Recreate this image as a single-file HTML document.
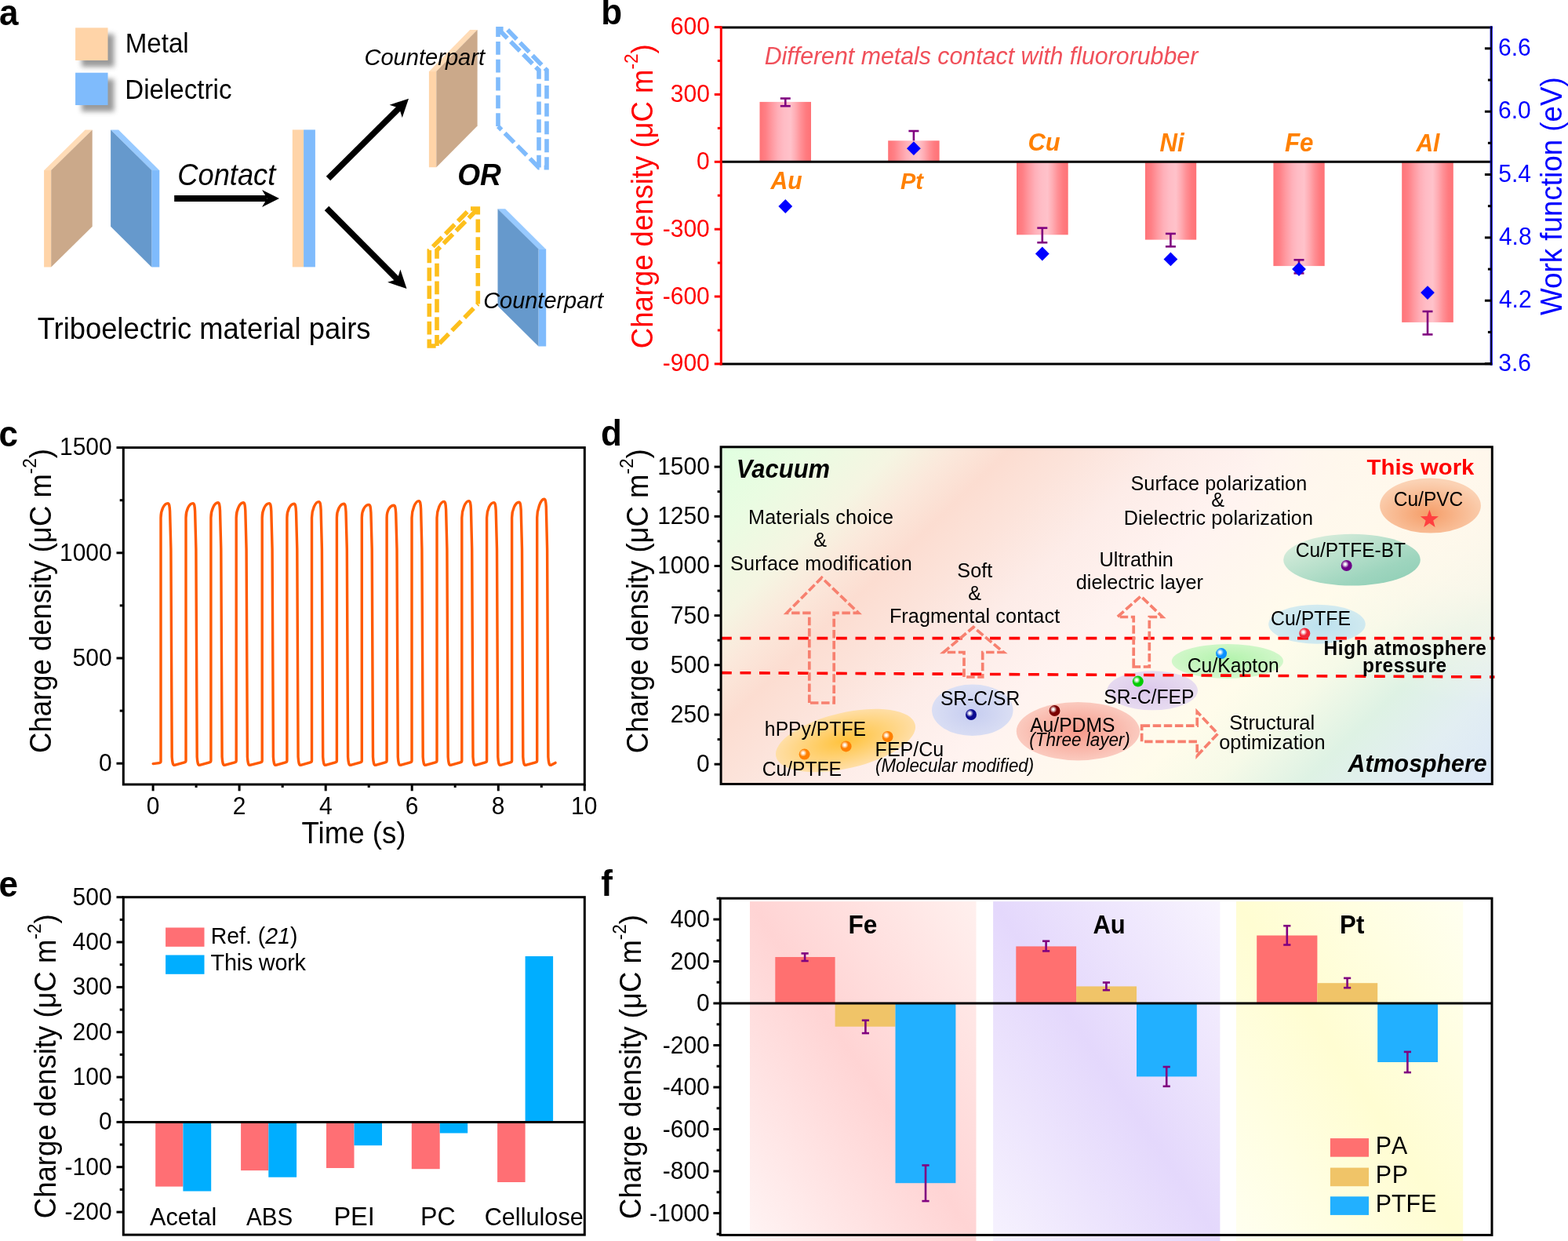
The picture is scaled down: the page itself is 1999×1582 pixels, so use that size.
<!DOCTYPE html><html><head><meta charset="utf-8"><title>Figure</title><style>html,body{margin:0;padding:0;background:#fff;overflow:hidden;}svg{display:block;}text{font-kerning:normal;}</style></head><body><svg width="1999" height="1582" viewBox="0 0 1999 1582" font-family='"Liberation Sans", Arial, Helvetica, sans-serif'><defs><filter id="shadow" x="-40%" y="-40%" width="180%" height="180%"><feGaussianBlur stdDeviation="3.2"/></filter><linearGradient id="barg" x1="0" x2="1" y1="0" y2="0"><stop offset="0" stop-color="#FF7377"/><stop offset="0.12" stop-color="#FF8086"/><stop offset="0.24" stop-color="#FF9AA1"/><stop offset="0.36" stop-color="#FFB0B9"/><stop offset="0.47" stop-color="#FFBCC5"/><stop offset="0.6" stop-color="#FFC2CA"/><stop offset="0.7" stop-color="#FFACB3"/><stop offset="0.8" stop-color="#FF9096"/><stop offset="0.9" stop-color="#FF7B80"/><stop offset="1" stop-color="#FF7276"/></linearGradient><clipPath id="dclip"><rect x="919.1" y="569.8" width="983.2" height="429.7"/></clipPath><linearGradient id="dbg" gradientUnits="userSpaceOnUse" x1="919" y1="570" x2="1604.4" y2="1285.2"><stop offset="0" stop-color="#E0FFE0"/><stop offset="0.08" stop-color="#EAFCE2"/><stop offset="0.16" stop-color="#F5F5E2"/><stop offset="0.21" stop-color="#FBE8DB"/><stop offset="0.26" stop-color="#FCDDD1"/><stop offset="0.32" stop-color="#FCE3DA"/><stop offset="0.40" stop-color="#FDECE8"/><stop offset="0.50" stop-color="#FFF3F0"/><stop offset="0.60" stop-color="#FFF8EE"/><stop offset="0.68" stop-color="#FFFCEB"/><stop offset="0.75" stop-color="#F6FAE8"/><stop offset="0.83" stop-color="#DEF2E4"/><stop offset="0.91" stop-color="#E2EEF2"/><stop offset="1" stop-color="#DCE8F8"/></linearGradient><radialGradient id="dtr" gradientUnits="userSpaceOnUse" cx="1905" cy="570" r="330"><stop offset="0" stop-color="#FFF7EC" stop-opacity="1"/><stop offset="0.55" stop-color="#FFF8EC" stop-opacity="0.75"/><stop offset="1" stop-color="#FFF8EC" stop-opacity="0"/></radialGradient><radialGradient id="eg_or" cx="0.5" cy="0.5" r="0.6"><stop offset="0" stop-color="#FFC23A"/><stop offset="1" stop-color="#FFE4BC"/></radialGradient><radialGradient id="eg_bl" cx="0.5" cy="0.55" r="0.55"><stop offset="0" stop-color="#C6CDF0"/><stop offset="1" stop-color="#DCE0F4"/></radialGradient><radialGradient id="eg_pd" cx="0.5" cy="0.5" r="0.55"><stop offset="0" stop-color="#F7998A"/><stop offset="1" stop-color="#FBCFC4"/></radialGradient><radialGradient id="eg_fep" cx="0.45" cy="0.5" r="0.55"><stop offset="0" stop-color="#DCC8EC"/><stop offset="1" stop-color="#E8DDF0"/></radialGradient><radialGradient id="eg_kap" cx="0.5" cy="0.45" r="0.6"><stop offset="0" stop-color="#B2F3AC"/><stop offset="1" stop-color="#D8F8D0"/></radialGradient><radialGradient id="eg_ptfe" cx="0.55" cy="0.55" r="0.6"><stop offset="0" stop-color="#BCE1EE"/><stop offset="1" stop-color="#D6ECF0"/></radialGradient><radialGradient id="eg_pvc" cx="0.48" cy="0.65" r="0.6"><stop offset="0" stop-color="#F59D68"/><stop offset="1" stop-color="#FBD2B4"/></radialGradient><linearGradient id="eg_bt" x1="0" y1="0" x2="1" y2="1"><stop offset="0" stop-color="#E4F2E2"/><stop offset="0.7" stop-color="#9ED5BE"/><stop offset="1" stop-color="#8CCDB4"/></linearGradient><radialGradient id="sp1" cx="0.38" cy="0.38" r="0.75"><stop offset="0" stop-color="#FFFFFF"/><stop offset="0.1" stop-color="#FFFFFF" stop-opacity="0.92"/><stop offset="0.44" stop-color="#FF8000"/><stop offset="0.85" stop-color="#FF8000"/><stop offset="1" stop-color="#F07800"/></radialGradient><radialGradient id="sp2" cx="0.38" cy="0.38" r="0.75"><stop offset="0" stop-color="#FFFFFF"/><stop offset="0.1" stop-color="#FFFFFF" stop-opacity="0.92"/><stop offset="0.44" stop-color="#FF8000"/><stop offset="0.85" stop-color="#FF8000"/><stop offset="1" stop-color="#F07800"/></radialGradient><radialGradient id="sp3" cx="0.38" cy="0.38" r="0.75"><stop offset="0" stop-color="#FFFFFF"/><stop offset="0.1" stop-color="#FFFFFF" stop-opacity="0.92"/><stop offset="0.44" stop-color="#FF8000"/><stop offset="0.85" stop-color="#FF8000"/><stop offset="1" stop-color="#F07800"/></radialGradient><radialGradient id="sp4" cx="0.38" cy="0.38" r="0.75"><stop offset="0" stop-color="#FFFFFF"/><stop offset="0.1" stop-color="#FFFFFF" stop-opacity="0.92"/><stop offset="0.44" stop-color="#0A0A90"/><stop offset="0.85" stop-color="#0A0A90"/><stop offset="1" stop-color="#000078"/></radialGradient><radialGradient id="sp5" cx="0.38" cy="0.38" r="0.75"><stop offset="0" stop-color="#FFFFFF"/><stop offset="0.1" stop-color="#FFFFFF" stop-opacity="0.92"/><stop offset="0.44" stop-color="#7A0000"/><stop offset="0.85" stop-color="#7A0000"/><stop offset="1" stop-color="#680000"/></radialGradient><radialGradient id="sp6" cx="0.38" cy="0.38" r="0.75"><stop offset="0" stop-color="#FFFFFF"/><stop offset="0.1" stop-color="#FFFFFF" stop-opacity="0.92"/><stop offset="0.44" stop-color="#00CC00"/><stop offset="0.85" stop-color="#00CC00"/><stop offset="1" stop-color="#00B800"/></radialGradient><radialGradient id="sp7" cx="0.38" cy="0.38" r="0.75"><stop offset="0" stop-color="#FFFFFF"/><stop offset="0.1" stop-color="#FFFFFF" stop-opacity="0.92"/><stop offset="0.44" stop-color="#0A90FF"/><stop offset="0.85" stop-color="#0A90FF"/><stop offset="1" stop-color="#0080F0"/></radialGradient><radialGradient id="sp8" cx="0.38" cy="0.38" r="0.75"><stop offset="0" stop-color="#FFFFFF"/><stop offset="0.1" stop-color="#FFFFFF" stop-opacity="0.92"/><stop offset="0.44" stop-color="#F02838"/><stop offset="0.85" stop-color="#F02838"/><stop offset="1" stop-color="#E02030"/></radialGradient><radialGradient id="sp9" cx="0.38" cy="0.38" r="0.75"><stop offset="0" stop-color="#FFFFFF"/><stop offset="0.1" stop-color="#FFFFFF" stop-opacity="0.92"/><stop offset="0.44" stop-color="#6C0088"/><stop offset="0.85" stop-color="#6C0088"/><stop offset="1" stop-color="#600078"/></radialGradient><linearGradient id="fbg_fe" x1="0" y1="1" x2="1" y2="0"><stop offset="0" stop-color="#FFF4F4"/><stop offset="0.5" stop-color="#FFD4D4"/><stop offset="1" stop-color="#FFF0EE"/></linearGradient><linearGradient id="fbg_au" x1="0" y1="1" x2="1" y2="0"><stop offset="0" stop-color="#F6F2FE"/><stop offset="0.5" stop-color="#E4D8FC"/><stop offset="1" stop-color="#F8F4FE"/></linearGradient><linearGradient id="fbg_pt" x1="0" y1="1" x2="1" y2="0"><stop offset="0" stop-color="#FFFFF0"/><stop offset="0.5" stop-color="#FFFDD2"/><stop offset="1" stop-color="#FFFFF0"/></linearGradient></defs><rect width="1999" height="1582" fill="#FFFFFF"/><text transform="matrix(1 0 0 1.045 -1.12 31.70)" font-size="44.00" fill="#000" font-weight="bold" >a</text>
<text transform="matrix(1 0 0 1.045 766.34 31.30)" font-size="44.00" fill="#000" font-weight="bold" >b</text>
<text transform="matrix(1 0 0 1.045 -1.56 568.80)" font-size="44.00" fill="#000" font-weight="bold" >c</text>
<text transform="matrix(1 0 0 1.045 766.04 568.00)" font-size="44.00" fill="#000" font-weight="bold" >d</text>
<text transform="matrix(1 0 0 1.045 -1.56 1142.60)" font-size="44.00" fill="#000" font-weight="bold" >e</text>
<text transform="matrix(1 0 0 1.045 766.34 1141.60)" font-size="44.00" fill="#000" font-weight="bold" >f</text>
<rect x="104.0" y="43.5" width="41.4" height="41.6" fill="#808080" filter="url(#shadow)" opacity="0.8"/>
<rect x="96.1" y="35.4" width="41.4" height="41.6" fill="#FFD4A8" />
<rect x="104.0" y="100.8" width="41.4" height="41.3" fill="#808080" filter="url(#shadow)" opacity="0.8"/>
<rect x="96.1" y="92.7" width="41.4" height="41.3" fill="#7FBBFC" />
<text transform="matrix(1 0 0 1.045 159.65 67.30)" font-size="33.17" fill="#000" >Metal</text>
<text transform="matrix(1 0 0 1.045 159.25 126.30)" font-size="33.13" fill="#000" >Dielectric</text>
<polygon points="56.1,217.0 65.2,217.0 65.2,340.4 56.1,340.4" fill="#FFD4A8" />
<polygon points="56.1,217.3 108.6,165.4 117.7,165.4 65.2,217.3" fill="#FFDCB7" />
<polygon points="65.2,217.0 117.7,165.4 117.7,288.8 65.2,340.4" fill="#CBA98A" />
<polygon points="203.3,217.0 193.3,217.0 193.3,340.4 203.3,340.4" fill="#7FBBFC" />
<polygon points="203.3,217.3 151.1,165.4 141.1,165.4 193.3,217.3" fill="#98CAFF" />
<polygon points="193.3,217.0 141.1,165.4 141.1,288.8 193.3,340.4" fill="#6699CC" />
<rect x="222.2" y="249.0" width="118.0" height="8.0" fill="#000" />
<polygon points="356.0,253.0 334.0,242.0 340.5,253.0 334.0,264.0" fill="#000" />
<text transform="matrix(1 0 0 1.045 226.31 236.00)" font-size="36.26" fill="#000" font-style="italic" >Contact</text>
<rect x="372.8" y="165.4" width="14.3" height="175.0" fill="#FFD4A8" />
<rect x="387.1" y="165.4" width="14.8" height="175.0" fill="#7FBBFC" />
<line x1="418.5" y1="227.5" x2="509.6" y2="137.0" stroke="#000" stroke-width="7.7" />
<polygon points="521.0,125.7 512.8,150.1 508.9,137.7 496.6,133.7" fill="#000" />
<line x1="416.5" y1="265.5" x2="507.2" y2="356.7" stroke="#000" stroke-width="7.7" />
<polygon points="518.5,368.0 494.1,359.8 506.5,355.9 510.4,343.6" fill="#000" />
<polygon points="546.9,90.9 556.3,90.9 556.3,213.3 546.9,213.3" fill="#FFD4A8" />
<polygon points="546.9,91.2 599.2,38.1 608.6,38.1 556.3,91.2" fill="#FFDCB7" />
<polygon points="556.3,90.9 608.6,38.1 608.6,160.5 556.3,213.3" fill="#CBA98A" />
<path d="M 635 161 L 635 36.8 L 646 36.8 L 697 89.5 L 697 213.6 L 687 213.6 L 635 161 M 635 36.8 L 687 89.5 L 687 213.6" fill="none" stroke="#7FBBFC" stroke-width="5.6" stroke-dasharray="16.8,6" stroke-linejoin="miter" stroke-miterlimit="10"/>
<path d="M 609.3 387.5 L 609.3 266 L 599.6 266 L 547.3 319 L 547.3 441 L 557 441 L 609.3 387.5 M 609.3 266 L 557 319 L 557 441" fill="none" stroke="#FDBF1C" stroke-width="5.6" stroke-dasharray="16.8,6" stroke-linejoin="miter" stroke-miterlimit="10"/>
<polygon points="696.2,317.6 686.5,317.6 686.5,441.4 696.2,441.4" fill="#7FBBFC" />
<polygon points="696.2,317.9 644.2,266.2 634.5,266.2 686.5,317.9" fill="#98CAFF" />
<polygon points="686.5,317.6 634.5,266.2 634.5,390.0 686.5,441.4" fill="#6699CC" />
<text transform="matrix(1 0 0 1.045 464.40 82.60)" font-size="29.09" fill="#000" font-style="italic" >Counterpart</text>
<text transform="matrix(1 0 0 1.045 616.21 392.80)" font-size="28.94" fill="#000" font-style="italic" >Counterpart</text>
<text transform="matrix(1 0 0 1.045 583.14 235.60)" font-size="37.16" fill="#000" font-weight="bold" font-style="italic" >OR</text>
<text transform="matrix(1 0 0 1.045 47.67 431.80)" font-size="36.36" fill="#000" >Triboelectric material pairs</text>
<rect x="968.5" y="129.9" width="65.5" height="76.4" fill="url(#barg)" />
<rect x="1132.2" y="179.3" width="65.4" height="27.0" fill="url(#barg)" />
<rect x="1296.0" y="206.3" width="65.7" height="93.0" fill="url(#barg)" />
<rect x="1459.9" y="206.3" width="65.3" height="99.3" fill="url(#barg)" />
<rect x="1623.4" y="206.3" width="65.3" height="132.8" fill="url(#barg)" />
<rect x="1787.2" y="206.3" width="65.6" height="204.6" fill="url(#barg)" />
<line x1="919.3" y1="206.3" x2="1901.2" y2="206.3" stroke="#000" stroke-width="3" />
<line x1="917.8" y1="35.0" x2="1902.7" y2="35.0" stroke="#000" stroke-width="3" />
<line x1="917.8" y1="464.0" x2="1902.7" y2="464.0" stroke="#000" stroke-width="3" />
<line x1="1001.3" y1="125.5" x2="1001.3" y2="135.2" stroke="#800080" stroke-width="2.6" />
<line x1="994.8" y1="125.5" x2="1007.8" y2="125.5" stroke="#800080" stroke-width="2.6" />
<line x1="994.8" y1="135.2" x2="1007.8" y2="135.2" stroke="#800080" stroke-width="2.6" />
<line x1="1164.9" y1="167.0" x2="1164.9" y2="179.3" stroke="#800080" stroke-width="2.6" />
<line x1="1158.4" y1="167.0" x2="1171.4" y2="167.0" stroke="#800080" stroke-width="2.6" />
<line x1="1328.8" y1="290.6" x2="1328.8" y2="309.2" stroke="#800080" stroke-width="2.6" />
<line x1="1322.3" y1="290.6" x2="1335.3" y2="290.6" stroke="#800080" stroke-width="2.6" />
<line x1="1322.3" y1="309.2" x2="1335.3" y2="309.2" stroke="#800080" stroke-width="2.6" />
<line x1="1492.4" y1="297.9" x2="1492.4" y2="314.3" stroke="#800080" stroke-width="2.6" />
<line x1="1485.9" y1="297.9" x2="1498.9" y2="297.9" stroke="#800080" stroke-width="2.6" />
<line x1="1485.9" y1="314.3" x2="1498.9" y2="314.3" stroke="#800080" stroke-width="2.6" />
<line x1="1656.0" y1="331.3" x2="1656.0" y2="348.4" stroke="#800080" stroke-width="2.6" />
<line x1="1649.5" y1="331.3" x2="1662.5" y2="331.3" stroke="#800080" stroke-width="2.6" />
<line x1="1649.5" y1="348.4" x2="1662.5" y2="348.4" stroke="#800080" stroke-width="2.6" />
<line x1="1820.0" y1="397.0" x2="1820.0" y2="426.4" stroke="#800080" stroke-width="2.6" />
<line x1="1813.5" y1="397.0" x2="1826.5" y2="397.0" stroke="#800080" stroke-width="2.6" />
<line x1="1813.5" y1="426.4" x2="1826.5" y2="426.4" stroke="#800080" stroke-width="2.6" />
<polygon points="1001.3,254.1 1010.2,263.0 1001.3,271.9 992.4,263.0" fill="#0000FF" />
<polygon points="1164.9,180.3 1173.8,189.2 1164.9,198.1 1156.0,189.2" fill="#0000FF" />
<polygon points="1328.8,314.6 1337.7,323.5 1328.8,332.4 1319.9,323.5" fill="#0000FF" />
<polygon points="1492.4,321.5 1501.3,330.4 1492.4,339.3 1483.5,330.4" fill="#0000FF" />
<polygon points="1656.0,334.2 1664.9,343.1 1656.0,352.0 1647.1,343.1" fill="#0000FF" />
<polygon points="1820.0,364.2 1828.9,373.1 1820.0,382.0 1811.1,373.1" fill="#0000FF" />
<line x1="919.3" y1="33.5" x2="919.3" y2="465.5" stroke="#FF0000" stroke-width="3" />
<line x1="910.8" y1="463.9" x2="919.3" y2="463.9" stroke="#FF0000" stroke-width="3" />
<text transform="matrix(1 0 0 1.045 844.75 473.38)" font-size="30.00" fill="#FF0000" >-900</text>
<line x1="914.8" y1="421.0" x2="919.3" y2="421.0" stroke="#FF0000" stroke-width="3" />
<line x1="910.8" y1="378.0" x2="919.3" y2="378.0" stroke="#FF0000" stroke-width="3" />
<text transform="matrix(1 0 0 1.045 844.75 387.52)" font-size="30.00" fill="#FF0000" >-600</text>
<line x1="914.8" y1="335.1" x2="919.3" y2="335.1" stroke="#FF0000" stroke-width="3" />
<line x1="910.8" y1="292.2" x2="919.3" y2="292.2" stroke="#FF0000" stroke-width="3" />
<text transform="matrix(1 0 0 1.045 844.75 301.66)" font-size="30.00" fill="#FF0000" >-300</text>
<line x1="914.8" y1="249.2" x2="919.3" y2="249.2" stroke="#FF0000" stroke-width="3" />
<line x1="910.8" y1="206.3" x2="919.3" y2="206.3" stroke="#FF0000" stroke-width="3" />
<text transform="matrix(1 0 0 1.045 888.10 215.80)" font-size="30.00" fill="#FF0000" >0</text>
<line x1="914.8" y1="163.4" x2="919.3" y2="163.4" stroke="#FF0000" stroke-width="3" />
<line x1="910.8" y1="120.4" x2="919.3" y2="120.4" stroke="#FF0000" stroke-width="3" />
<text transform="matrix(1 0 0 1.045 854.80 129.94)" font-size="30.00" fill="#FF0000" >300</text>
<line x1="914.8" y1="77.5" x2="919.3" y2="77.5" stroke="#FF0000" stroke-width="3" />
<line x1="910.8" y1="34.6" x2="919.3" y2="34.6" stroke="#FF0000" stroke-width="3" />
<text transform="matrix(1 0 0 1.045 854.80 44.08)" font-size="30.00" fill="#FF0000" >600</text>
<line x1="1901.2" y1="33.5" x2="1901.2" y2="465.5" stroke="#0000FF" stroke-width="3.2" />
<line x1="1901.2" y1="33.5" x2="1901.2" y2="465.5" stroke="#000" stroke-width="1.6" />
<line x1="1892.9" y1="463.6" x2="1901.2" y2="463.6" stroke="#000" stroke-width="3" />
<text transform="matrix(1 0 0 1.045 1910.30 472.80)" font-size="30.00" fill="#0000FF" >3.6</text>
<line x1="1896.9" y1="423.4" x2="1901.2" y2="423.4" stroke="#000" stroke-width="3" />
<line x1="1892.9" y1="383.2" x2="1901.2" y2="383.2" stroke="#000" stroke-width="3" />
<text transform="matrix(1 0 0 1.045 1910.90 392.44)" font-size="30.00" fill="#0000FF" >4.2</text>
<line x1="1896.9" y1="343.1" x2="1901.2" y2="343.1" stroke="#000" stroke-width="3" />
<line x1="1892.9" y1="302.9" x2="1901.2" y2="302.9" stroke="#000" stroke-width="3" />
<text transform="matrix(1 0 0 1.045 1910.90 312.08)" font-size="30.00" fill="#0000FF" >4.8</text>
<line x1="1896.9" y1="262.7" x2="1901.2" y2="262.7" stroke="#000" stroke-width="3" />
<line x1="1892.9" y1="222.5" x2="1901.2" y2="222.5" stroke="#000" stroke-width="3" />
<text transform="matrix(1 0 0 1.045 1910.30 231.71)" font-size="30.00" fill="#0000FF" >5.4</text>
<line x1="1896.9" y1="182.3" x2="1901.2" y2="182.3" stroke="#000" stroke-width="3" />
<line x1="1892.9" y1="142.2" x2="1901.2" y2="142.2" stroke="#000" stroke-width="3" />
<text transform="matrix(1 0 0 1.045 1910.00 151.35)" font-size="30.00" fill="#0000FF" >6.0</text>
<line x1="1896.9" y1="102.0" x2="1901.2" y2="102.0" stroke="#000" stroke-width="3" />
<line x1="1892.9" y1="61.8" x2="1901.2" y2="61.8" stroke="#000" stroke-width="3" />
<text transform="matrix(1 0 0 1.045 1910.00 70.99)" font-size="30.00" fill="#0000FF" >6.6</text>
<text transform="translate(831.5,250.3) rotate(-90) scale(1,1.045)" font-size="36.5" fill="#FF0000" text-anchor="middle">Charge density (μC m<tspan font-size="22.5" dy="-18">-2</tspan><tspan dy="18">)</tspan></text>
<text transform="translate(1991.2,250.1) rotate(-90) scale(1,1.045)" font-size="36.8" fill="#0000FF" text-anchor="middle">Work function (eV)</text>
<text transform="matrix(1 0 0 1.045 974.69 82.20)" font-size="30.33" fill="#F0505A" font-style="italic" >Different metals contact with fluororubber</text>
<text transform="matrix(1 0 0 1.045 982.40 241.30)" font-size="30.11" fill="#FF8000" font-weight="bold" font-style="italic" >Au</text>
<text transform="matrix(1 0 0 1.045 1148.02 241.30)" font-size="28.97" fill="#FF8000" font-weight="bold" font-style="italic" >Pt</text>
<text transform="matrix(1 0 0 1.045 1310.46 192.30)" font-size="30.83" fill="#FF8000" font-weight="bold" font-style="italic" >Cu</text>
<text transform="matrix(1 0 0 1.045 1478.38 192.60)" font-size="31.16" fill="#FF8000" font-weight="bold" font-style="italic" >Ni</text>
<text transform="matrix(1 0 0 1.045 1637.97 192.60)" font-size="31.25" fill="#FF8000" font-weight="bold" font-style="italic" >Fe</text>
<text transform="matrix(1 0 0 1.045 1805.40 192.60)" font-size="30.00" fill="#FF8000" font-weight="bold" font-style="italic" >Al</text>
<path d="M 195.2 973.6 L 203.0 972.6 C 204.4 972.4 205.0 971.8 205.0 970.5 L 205.0 660 C 205.0 650 209.5 641.6 214.0 641.6 C 215.6 641.6 216.2 644.6 216.6 651.6 L 217.9 700 L 219.2 965 C 219.6 972 220.5 975.6 222.5 975.4 L 235.2 971.8 C 236.5 971.6 237.0 971.0 237.0 969.5 L 237.0 660 C 237.0 650 241.5 641.6 246.0 641.6 C 247.6 641.6 248.2 644.6 248.6 651.6 L 249.9 700 L 251.2 965 C 251.6 972 252.5 975.6 254.5 975.4 L 267.1 971.8 C 268.4 971.6 268.9 971.0 268.9 969.5 L 268.9 660 C 268.9 650 273.4 640.8 277.9 640.8 C 279.5 640.8 280.1 643.8 280.5 650.8 L 281.8 700 L 283.1 965 C 283.5 972 284.4 975.6 286.4 975.4 L 299.4 971.8 C 300.7 971.6 301.2 971.0 301.2 969.5 L 301.2 660 C 301.2 650 305.7 640.8 310.2 640.8 C 311.8 640.8 312.4 643.8 312.8 650.8 L 314.1 700 L 315.4 965 C 315.8 972 316.7 975.6 318.7 975.4 L 332.4 971.8 C 333.7 971.6 334.2 971.0 334.2 969.5 L 334.2 660 C 334.2 650 338.7 641.6 343.2 641.6 C 344.8 641.6 345.4 644.6 345.8 651.6 L 347.1 700 L 348.4 965 C 348.8 972 349.7 975.6 351.7 975.4 L 364.1 971.8 C 365.4 971.6 365.9 971.0 365.9 969.5 L 365.9 660 C 365.9 650 370.4 642.3 374.9 642.3 C 376.5 642.3 377.1 645.3 377.5 652.3 L 378.8 700 L 380.1 965 C 380.5 972 381.4 975.6 383.4 975.4 L 395.7 971.8 C 397.0 971.6 397.5 971.0 397.5 969.5 L 397.5 660 C 397.5 650 402.0 639.6 406.5 639.6 C 408.1 639.6 408.7 642.6 409.1 649.6 L 410.4 700 L 411.7 965 C 412.1 972 413.0 975.6 415.0 975.4 L 427.6 971.8 C 428.9 971.6 429.4 971.0 429.4 969.5 L 429.4 660 C 429.4 650 433.9 642.3 438.4 642.3 C 440.0 642.3 440.6 645.3 441.0 652.3 L 442.3 700 L 443.6 965 C 444.0 972 444.9 975.6 446.9 975.4 L 459.5 971.8 C 460.8 971.6 461.3 971.0 461.3 969.5 L 461.3 660 C 461.3 650 465.8 643.4 470.3 643.4 C 471.9 643.4 472.5 646.4 472.9 653.4 L 474.2 700 L 475.5 965 C 475.9 972 476.8 975.6 478.8 975.4 L 491.3 971.8 C 492.6 971.6 493.1 971.0 493.1 969.5 L 493.1 660 C 493.1 650 497.6 644.2 502.1 644.2 C 503.7 644.2 504.3 647.2 504.7 654.2 L 506.0 700 L 507.3 965 C 507.7 972 508.6 975.6 510.6 975.4 L 523.2 971.8 C 524.5 971.6 525.0 971.0 525.0 969.5 L 525.0 660 C 525.0 650 529.5 638.6 534.0 638.6 C 535.6 638.6 536.2 641.6 536.6 648.6 L 537.9 700 L 539.2 965 C 539.6 972 540.5 975.6 542.5 975.4 L 555.2 971.8 C 556.5 971.6 557.0 971.0 557.0 969.5 L 557.0 660 C 557.0 650 561.5 639.4 566.0 639.4 C 567.6 639.4 568.2 642.4 568.6 649.4 L 569.9 700 L 571.2 965 C 571.6 972 572.5 975.6 574.5 975.4 L 587.0 971.8 C 588.3 971.6 588.8 971.0 588.8 969.5 L 588.8 660 C 588.8 650 593.3 638.6 597.8 638.6 C 599.4 638.6 600.0 641.6 600.4 648.6 L 601.7 700 L 603.0 965 C 603.4 972 604.3 975.6 606.3 975.4 L 618.8 971.8 C 620.1 971.6 620.6 971.0 620.6 969.5 L 620.6 660 C 620.6 650 625.1 640.6 629.6 640.6 C 631.2 640.6 631.8 643.6 632.2 650.6 L 633.5 700 L 634.8 965 C 635.2 972 636.1 975.6 638.1 975.4 L 650.8 971.8 C 652.1 971.6 652.6 971.0 652.6 969.5 L 652.6 660 C 652.6 650 657.1 640.2 661.6 640.2 C 663.2 640.2 663.8 643.2 664.2 650.2 L 665.5 700 L 666.8 965 C 667.2 972 668.1 975.6 670.1 975.4 L 682.9 971.8 C 684.2 971.6 684.7 971.0 684.7 969.5 L 684.7 660 C 684.7 650 689.2 636.2 693.7 636.2 C 695.3 636.2 695.9 639.2 696.3 646.2 L 697.6 700 L 698.9 965 C 699.3 972 700.2 975.6 702.2 975.4 L 708.0 972.4" fill="none" stroke="#FF5A00" stroke-width="3.4" stroke-linejoin="round" stroke-linecap="round"/>
<rect x="157.3" y="570.6" width="588.0" height="429.4" fill="none" stroke="#000" stroke-width="3"/>
<line x1="148.5" y1="973.2" x2="157.3" y2="973.2" stroke="#000" stroke-width="3" />
<text transform="matrix(1 0 0 1.045 125.90 983.00)" font-size="30.00" fill="#000" >0</text>
<line x1="152.7" y1="906.1" x2="157.3" y2="906.1" stroke="#000" stroke-width="3" />
<line x1="148.5" y1="839.0" x2="157.3" y2="839.0" stroke="#000" stroke-width="3" />
<text transform="matrix(1 0 0 1.045 92.60 848.80)" font-size="30.00" fill="#000" >500</text>
<line x1="152.7" y1="771.9" x2="157.3" y2="771.9" stroke="#000" stroke-width="3" />
<line x1="148.5" y1="704.8" x2="157.3" y2="704.8" stroke="#000" stroke-width="3" />
<text transform="matrix(1 0 0 1.045 75.95 714.60)" font-size="30.00" fill="#000" >1000</text>
<line x1="152.7" y1="637.7" x2="157.3" y2="637.7" stroke="#000" stroke-width="3" />
<line x1="148.5" y1="570.6" x2="157.3" y2="570.6" stroke="#000" stroke-width="3" />
<text transform="matrix(1 0 0 1.045 75.95 580.40)" font-size="30.00" fill="#000" >1500</text>
<line x1="195.1" y1="1000.0" x2="195.1" y2="1008.3" stroke="#000" stroke-width="3" />
<text transform="matrix(1 0 0 1.045 186.70 1037.60)" font-size="30.00" fill="#000" >0</text>
<line x1="250.1" y1="1000.0" x2="250.1" y2="1004.0" stroke="#000" stroke-width="3" />
<line x1="305.1" y1="1000.0" x2="305.1" y2="1008.3" stroke="#000" stroke-width="3" />
<text transform="matrix(1 0 0 1.045 296.81 1037.60)" font-size="30.00" fill="#000" >2</text>
<line x1="360.2" y1="1000.0" x2="360.2" y2="1004.0" stroke="#000" stroke-width="3" />
<line x1="415.2" y1="1000.0" x2="415.2" y2="1008.3" stroke="#000" stroke-width="3" />
<text transform="matrix(1 0 0 1.045 407.00 1037.60)" font-size="30.00" fill="#000" >4</text>
<line x1="470.2" y1="1000.0" x2="470.2" y2="1004.0" stroke="#000" stroke-width="3" />
<line x1="525.2" y1="1000.0" x2="525.2" y2="1008.3" stroke="#000" stroke-width="3" />
<text transform="matrix(1 0 0 1.045 516.75 1037.60)" font-size="30.00" fill="#000" >6</text>
<line x1="580.2" y1="1000.0" x2="580.2" y2="1004.0" stroke="#000" stroke-width="3" />
<line x1="635.3" y1="1000.0" x2="635.3" y2="1008.3" stroke="#000" stroke-width="3" />
<text transform="matrix(1 0 0 1.045 626.86 1037.60)" font-size="30.00" fill="#000" >8</text>
<line x1="690.3" y1="1000.0" x2="690.3" y2="1004.0" stroke="#000" stroke-width="3" />
<line x1="745.3" y1="1000.0" x2="745.3" y2="1008.3" stroke="#000" stroke-width="3" />
<text transform="matrix(1 0 0 1.045 728.05 1037.60)" font-size="30.00" fill="#000" >10</text>
<text transform="translate(64.5,766.0) rotate(-90) scale(1,1.045)" font-size="36.5" fill="#000" text-anchor="middle">Charge density (μC m<tspan font-size="22.5" dy="-18">-2</tspan><tspan dy="18">)</tspan></text>
<text transform="matrix(1 0 0 1.045 384.47 1075.30)" font-size="36.65" fill="#000" >Time (s)</text>
<g clip-path="url(#dclip)">
<rect x="919.1" y="569.8" width="983.2" height="429.7" fill="url(#dbg)" />
<rect x="919.1" y="569.8" width="983.2" height="429.7" fill="url(#dtr)" />
<ellipse cx="1078" cy="944" rx="91" ry="35.5" transform="rotate(-13 1078 944)" fill="url(#eg_or)"/>
<ellipse cx="1239.8" cy="905.2" rx="51.8" ry="32.8" fill="url(#eg_bl)"/>
<ellipse cx="1374.4" cy="932.2" rx="78.6" ry="37.2" fill="url(#eg_pd)"/>
<ellipse cx="1469.3" cy="880.3" rx="57.8" ry="25" fill="url(#eg_fep)"/>
<ellipse cx="1564.9" cy="843.0" rx="71.1" ry="21.9" fill="url(#eg_kap)"/>
<ellipse cx="1679.0" cy="795.7" rx="61.8" ry="25" fill="url(#eg_ptfe)"/>
<ellipse cx="1823.5" cy="644.6" rx="64.4" ry="35" fill="url(#eg_pvc)"/>
<ellipse cx="1723.5" cy="713.7" rx="87.3" ry="32.9" fill="url(#eg_bt)"/>
</g>
<line x1="919" y1="813.6" x2="1905.5" y2="813.6" stroke="#FF0000" stroke-width="3.6" stroke-dasharray="13.8,10.7"/>
<line x1="919" y1="857.6" x2="1905.5" y2="863.0" stroke="#FF0000" stroke-width="3.6" stroke-dasharray="13.8,10.7"/>
<path d="M 1031.8 896.0 L 1031.8 781.3 L 1003.1 781.3 L 1047.6 736.4 L 1094.4 781.3 L 1063.2 781.3 L 1063.2 896.0 Z" fill="none" stroke="#F7806F" stroke-width="3.7" stroke-dasharray="10.5,3.6" stroke-linejoin="miter"/>
<path d="M 1229.0 863.0 L 1229.0 831.5 L 1203.0 831.5 L 1241.0 799.5 L 1279.5 831.5 L 1252.7 831.5 L 1252.7 863.0 Z" fill="none" stroke="#F7806F" stroke-width="3.7" stroke-dasharray="10.5,3.6" stroke-linejoin="miter"/>
<path d="M 1445.2 850.0 L 1445.2 786.5 L 1424.5 786.5 L 1454.4 760.0 L 1482.0 786.5 L 1465.3 786.5 L 1465.3 850.0 Z" fill="none" stroke="#F7806F" stroke-width="3.7" stroke-dasharray="10.5,3.6" stroke-linejoin="miter"/>
<path d="M 1455.6 925.2 L 1526.2 925.2 L 1526.2 907.4 L 1552.5 935.3 L 1526.2 963.3 L 1526.2 945.4 L 1455.6 945.4 Z" fill="none" stroke="#F7806F" stroke-width="3.7" stroke-dasharray="10.5,3.6" stroke-linejoin="miter"/>
<circle cx="1025.6" cy="961.6" r="7.0" fill="url(#sp1)"/>
<circle cx="1078.6" cy="951.4" r="7.0" fill="url(#sp2)"/>
<circle cx="1131.6" cy="939.0" r="7.0" fill="url(#sp3)"/>
<circle cx="1238.0" cy="911.0" r="7.0" fill="url(#sp4)"/>
<circle cx="1344.5" cy="906.0" r="7.0" fill="url(#sp5)"/>
<circle cx="1450.8" cy="868.6" r="7.0" fill="url(#sp6)"/>
<circle cx="1557.1" cy="833.1" r="7.0" fill="url(#sp7)"/>
<circle cx="1663.3" cy="807.5" r="7.0" fill="url(#sp8)"/>
<circle cx="1716.7" cy="721.0" r="7.0" fill="url(#sp9)"/>
<polygon points="1822.4,649.8 1825.3,658.0 1834.0,658.2 1827.2,663.5 1829.6,671.9 1822.4,667.0 1815.2,671.9 1817.6,663.5 1810.8,658.2 1819.5,658.0" fill="#FF4040" />
<rect x="919.1" y="569.8" width="983.2" height="429.7" fill="none" stroke="#000" stroke-width="3"/>
<line x1="910.6" y1="974.2" x2="919.1" y2="974.2" stroke="#000" stroke-width="3" />
<text transform="matrix(1 0 0 1.045 888.10 984.20)" font-size="30.00" fill="#000" >0</text>
<line x1="914.6" y1="942.6" x2="919.1" y2="942.6" stroke="#000" stroke-width="3" />
<line x1="910.6" y1="911.0" x2="919.1" y2="911.0" stroke="#000" stroke-width="3" />
<text transform="matrix(1 0 0 1.045 854.80 921.02)" font-size="30.00" fill="#000" >250</text>
<line x1="914.6" y1="879.4" x2="919.1" y2="879.4" stroke="#000" stroke-width="3" />
<line x1="910.6" y1="847.8" x2="919.1" y2="847.8" stroke="#000" stroke-width="3" />
<text transform="matrix(1 0 0 1.045 854.80 857.83)" font-size="30.00" fill="#000" >500</text>
<line x1="914.6" y1="816.2" x2="919.1" y2="816.2" stroke="#000" stroke-width="3" />
<line x1="910.6" y1="784.7" x2="919.1" y2="784.7" stroke="#000" stroke-width="3" />
<text transform="matrix(1 0 0 1.045 854.80 794.65)" font-size="30.00" fill="#000" >750</text>
<line x1="914.6" y1="753.1" x2="919.1" y2="753.1" stroke="#000" stroke-width="3" />
<line x1="910.6" y1="721.5" x2="919.1" y2="721.5" stroke="#000" stroke-width="3" />
<text transform="matrix(1 0 0 1.045 838.15 731.47)" font-size="30.00" fill="#000" >1000</text>
<line x1="914.6" y1="689.9" x2="919.1" y2="689.9" stroke="#000" stroke-width="3" />
<line x1="910.6" y1="658.3" x2="919.1" y2="658.3" stroke="#000" stroke-width="3" />
<text transform="matrix(1 0 0 1.045 838.15 668.28)" font-size="30.00" fill="#000" >1250</text>
<line x1="914.6" y1="626.7" x2="919.1" y2="626.7" stroke="#000" stroke-width="3" />
<line x1="910.6" y1="595.1" x2="919.1" y2="595.1" stroke="#000" stroke-width="3" />
<text transform="matrix(1 0 0 1.045 838.15 605.10)" font-size="30.00" fill="#000" >1500</text>
<text transform="translate(825.5,766.3) rotate(-90) scale(1,1.045)" font-size="36.5" fill="#000" text-anchor="middle">Charge density (μC m<tspan font-size="22.5" dy="-18">-2</tspan><tspan dy="18">)</tspan></text>
<text transform="matrix(1 0 0 1.045 938.77 609.10)" font-size="30.98" fill="#000" font-weight="bold" font-style="italic" >Vacuum</text>
<text transform="matrix(1 0 0 1.045 953.98 668.00)" font-size="25.20" fill="#000" textLength="185.0" lengthAdjust="spacing" >Materials choice</text>
<text transform="matrix(1 0 0 1.045 1037.37 696.90)" font-size="25.20" fill="#000" >&amp;</text>
<text transform="matrix(1 0 0 1.045 930.97 726.80)" font-size="25.20" fill="#000" textLength="231.7" lengthAdjust="spacing" >Surface modification</text>
<text transform="matrix(1 0 0 1.045 1220.37 735.80)" font-size="25.20" fill="#000" >Soft</text>
<text transform="matrix(1 0 0 1.045 1234.37 764.80)" font-size="25.20" fill="#000" >&amp;</text>
<text transform="matrix(1 0 0 1.045 1133.88 793.60)" font-size="25.20" fill="#000" textLength="217.3" lengthAdjust="spacing" >Fragmental contact</text>
<text transform="matrix(1 0 0 1.045 1198.89 899.40)" font-size="24.66" fill="#000" >SR-C/SR</text>
<text transform="matrix(1 0 0 1.045 974.87 937.60)" font-size="24.74" fill="#000" >hPPy/PTFE</text>
<text transform="matrix(1 0 0 1.045 1115.60 964.20)" font-size="25.04" fill="#000" >FEP/Cu</text>
<text transform="matrix(1 0 0 1.045 1115.99 984.40)" font-size="22.33" fill="#000" font-style="italic" >(Molecular modified)</text>
<text transform="matrix(1 0 0 1.045 971.77 988.80)" font-size="24.63" fill="#000" >Cu/PTFE</text>
<text transform="matrix(1 0 0 1.045 1313.18 932.50)" font-size="24.65" fill="#000" >Au/PDMS</text>
<text transform="matrix(1 0 0 1.045 1312.29 951.40)" font-size="22.46" fill="#000" font-style="italic" >(Three layer)</text>
<text transform="matrix(1 0 0 0.965 1742.61 605.20)" font-size="29.30" fill="#FF0000" font-weight="bold" >This work</text>
<text transform="matrix(1 0 0 1.045 1776.77 644.50)" font-size="24.51" fill="#000" >Cu/PVC</text>
<text transform="matrix(1 0 0 1.045 1441.47 625.10)" font-size="25.20" fill="#000" textLength="224.8" lengthAdjust="spacing" >Surface polarization</text>
<text transform="matrix(1 0 0 1.045 1544.37 646.20)" font-size="25.20" fill="#000" >&amp;</text>
<text transform="matrix(1 0 0 1.045 1432.78 668.60)" font-size="25.20" fill="#000" textLength="241.2" lengthAdjust="spacing" >Dielectric polarization</text>
<text transform="matrix(1 0 0 1.045 1651.67 709.80)" font-size="24.55" fill="#000" >Cu/PTFE-BT</text>
<text transform="matrix(1 0 0 1.045 1401.50 722.40)" font-size="25.36" fill="#000" >Ultrathin</text>
<text transform="matrix(1 0 0 1.045 1371.79 750.60)" font-size="25.20" fill="#000" textLength="162.1" lengthAdjust="spacing" >dielectric layer</text>
<text transform="matrix(1 0 0 1.045 1620.06 797.30)" font-size="24.83" fill="#000" >Cu/PTFE</text>
<text transform="matrix(1 0 0 1.045 1687.61 834.50)" font-size="24.50" fill="#000" font-weight="bold" textLength="207.4" lengthAdjust="spacing" >High atmosphere</text>
<text transform="matrix(1 0 0 1.045 1737.11 857.00)" font-size="24.50" fill="#000" font-weight="bold" textLength="107.1" lengthAdjust="spacing" >pressure</text>
<text transform="matrix(1 0 0 1.045 1513.76 856.90)" font-size="24.75" fill="#000" >Cu/Kapton</text>
<text transform="matrix(1 0 0 1.045 1407.19 896.80)" font-size="24.73" fill="#000" >SR-C/FEP</text>
<text transform="matrix(1 0 0 1.045 1567.36 929.70)" font-size="25.44" fill="#000" >Structural</text>
<text transform="matrix(1 0 0 1.045 1554.18 954.50)" font-size="25.39" fill="#000" >optimization</text>
<text transform="matrix(1 0 0 1.045 1718.61 984.30)" font-size="30.35" fill="#000" font-weight="bold" font-style="italic" >Atmosphere</text>
<rect x="198.2" y="1430.4" width="35.2" height="82.2" fill="#FF6F74" />
<rect x="233.4" y="1430.4" width="35.8" height="88.1" fill="#00AEFF" />
<rect x="307.1" y="1430.4" width="35.2" height="61.7" fill="#FF6F74" />
<rect x="342.3" y="1430.4" width="35.8" height="70.3" fill="#00AEFF" />
<rect x="416.0" y="1430.4" width="35.5" height="58.6" fill="#FF6F74" />
<rect x="451.5" y="1430.4" width="35.5" height="29.8" fill="#00AEFF" />
<rect x="524.8" y="1430.4" width="35.9" height="59.8" fill="#FF6F74" />
<rect x="560.7" y="1430.4" width="35.5" height="14.1" fill="#00AEFF" />
<rect x="634.1" y="1430.4" width="35.5" height="76.6" fill="#FF6F74" />
<rect x="669.6" y="1219.0" width="35.5" height="211.4" fill="#00AEFF" />
<line x1="157.3" y1="1430.4" x2="745.3" y2="1430.4" stroke="#000" stroke-width="3" />
<rect x="157.3" y="1143.7" width="588.0" height="430.4" fill="none" stroke="#000" stroke-width="3"/>
<line x1="148.5" y1="1545.1" x2="157.3" y2="1545.1" stroke="#000" stroke-width="3" />
<text transform="matrix(1 0 0 1.045 82.55 1555.08)" font-size="30.00" fill="#000" >-200</text>
<line x1="152.7" y1="1516.4" x2="157.3" y2="1516.4" stroke="#000" stroke-width="3" />
<line x1="148.5" y1="1487.7" x2="157.3" y2="1487.7" stroke="#000" stroke-width="3" />
<text transform="matrix(1 0 0 1.045 82.55 1497.74)" font-size="30.00" fill="#000" >-100</text>
<line x1="152.7" y1="1459.1" x2="157.3" y2="1459.1" stroke="#000" stroke-width="3" />
<line x1="148.5" y1="1430.4" x2="157.3" y2="1430.4" stroke="#000" stroke-width="3" />
<text transform="matrix(1 0 0 1.045 125.90 1440.40)" font-size="30.00" fill="#000" >0</text>
<line x1="152.7" y1="1401.7" x2="157.3" y2="1401.7" stroke="#000" stroke-width="3" />
<line x1="148.5" y1="1373.1" x2="157.3" y2="1373.1" stroke="#000" stroke-width="3" />
<text transform="matrix(1 0 0 1.045 92.60 1383.06)" font-size="30.00" fill="#000" >100</text>
<line x1="152.7" y1="1344.4" x2="157.3" y2="1344.4" stroke="#000" stroke-width="3" />
<line x1="148.5" y1="1315.7" x2="157.3" y2="1315.7" stroke="#000" stroke-width="3" />
<text transform="matrix(1 0 0 1.045 92.60 1325.72)" font-size="30.00" fill="#000" >200</text>
<line x1="152.7" y1="1287.1" x2="157.3" y2="1287.1" stroke="#000" stroke-width="3" />
<line x1="148.5" y1="1258.4" x2="157.3" y2="1258.4" stroke="#000" stroke-width="3" />
<text transform="matrix(1 0 0 1.045 92.60 1268.38)" font-size="30.00" fill="#000" >300</text>
<line x1="152.7" y1="1229.7" x2="157.3" y2="1229.7" stroke="#000" stroke-width="3" />
<line x1="148.5" y1="1201.0" x2="157.3" y2="1201.0" stroke="#000" stroke-width="3" />
<text transform="matrix(1 0 0 1.045 92.60 1211.04)" font-size="30.00" fill="#000" >400</text>
<line x1="152.7" y1="1172.4" x2="157.3" y2="1172.4" stroke="#000" stroke-width="3" />
<line x1="148.5" y1="1143.7" x2="157.3" y2="1143.7" stroke="#000" stroke-width="3" />
<text transform="matrix(1 0 0 1.045 92.60 1153.70)" font-size="30.00" fill="#000" >500</text>
<rect x="211.1" y="1182.5" width="49.4" height="24.3" fill="#FF6F74" />
<rect x="211.1" y="1217.5" width="49.4" height="24.3" fill="#00AEFF" />
<text transform="matrix(1 0 0 1.045 268.7 1202.5)" font-size="28.5" fill="#000">Ref. (<tspan font-style="italic">21</tspan>)</text>
<text transform="matrix(1 0 0 1.045 268.62 1237.00)" font-size="28.80" fill="#000" textLength="121.3" lengthAdjust="spacing" >This work</text>
<text transform="matrix(1 0 0 1.045 191.05 1562.40)" font-size="30.66" fill="#000" >Acetal</text>
<text transform="matrix(1 0 0 1.045 313.95 1562.40)" font-size="29.64" fill="#000" >ABS</text>
<text transform="matrix(1 0 0 1.045 425.39 1562.40)" font-size="32.57" fill="#000" >PEI</text>
<text transform="matrix(1 0 0 1.045 535.92 1562.40)" font-size="32.20" fill="#000" >PC</text>
<text transform="matrix(1 0 0 1.045 617.67 1562.40)" font-size="30.67" fill="#000" >Cellulose</text>
<text transform="translate(70.9,1359.3) rotate(-90) scale(1,1.045)" font-size="36.5" fill="#000" text-anchor="middle">Charge density (μC m<tspan font-size="22.5" dy="-18">-2</tspan><tspan dy="18">)</tspan></text>
<rect x="956.0" y="1149.2" width="288.5" height="432.8" fill="url(#fbg_fe)" />
<rect x="1266.1" y="1149.2" width="289.3" height="432.8" fill="url(#fbg_au)" />
<rect x="1576.0" y="1149.2" width="289.2" height="432.8" fill="url(#fbg_pt)" />
<rect x="988.3" y="1220.0" width="76.3" height="59.0" fill="#FF7070" />
<rect x="1064.6" y="1279.0" width="76.9" height="29.7" fill="#F0C468" />
<rect x="1141.5" y="1279.0" width="76.9" height="229.2" fill="#22B0FF" />
<rect x="1295.3" y="1206.4" width="76.8" height="72.6" fill="#FF7070" />
<rect x="1372.1" y="1257.4" width="76.9" height="21.6" fill="#F0C468" />
<rect x="1449.0" y="1279.0" width="76.8" height="93.4" fill="#22B0FF" />
<rect x="1602.2" y="1192.5" width="77.2" height="86.5" fill="#FF7070" />
<rect x="1679.4" y="1253.2" width="76.8" height="25.8" fill="#F0C468" />
<rect x="1756.2" y="1279.0" width="76.8" height="75.0" fill="#22B0FF" />
<line x1="1026.1" y1="1215.4" x2="1026.1" y2="1225.0" stroke="#800080" stroke-width="2.6" />
<line x1="1021.5" y1="1215.4" x2="1030.7" y2="1215.4" stroke="#800080" stroke-width="2.6" />
<line x1="1021.5" y1="1225.0" x2="1030.7" y2="1225.0" stroke="#800080" stroke-width="2.6" />
<line x1="1103.4" y1="1300.7" x2="1103.4" y2="1317.1" stroke="#800080" stroke-width="2.6" />
<line x1="1098.8" y1="1300.7" x2="1108.0" y2="1300.7" stroke="#800080" stroke-width="2.6" />
<line x1="1098.8" y1="1317.1" x2="1108.0" y2="1317.1" stroke="#800080" stroke-width="2.6" />
<line x1="1180.0" y1="1485.5" x2="1180.0" y2="1531.1" stroke="#800080" stroke-width="2.6" />
<line x1="1175.4" y1="1485.5" x2="1184.6" y2="1485.5" stroke="#800080" stroke-width="2.6" />
<line x1="1175.4" y1="1531.1" x2="1184.6" y2="1531.1" stroke="#800080" stroke-width="2.6" />
<line x1="1333.6" y1="1199.7" x2="1333.6" y2="1212.4" stroke="#800080" stroke-width="2.6" />
<line x1="1329.0" y1="1199.7" x2="1338.2" y2="1199.7" stroke="#800080" stroke-width="2.6" />
<line x1="1329.0" y1="1212.4" x2="1338.2" y2="1212.4" stroke="#800080" stroke-width="2.6" />
<line x1="1410.4" y1="1252.5" x2="1410.4" y2="1262.2" stroke="#800080" stroke-width="2.6" />
<line x1="1405.8" y1="1252.5" x2="1415.0" y2="1252.5" stroke="#800080" stroke-width="2.6" />
<line x1="1405.8" y1="1262.2" x2="1415.0" y2="1262.2" stroke="#800080" stroke-width="2.6" />
<line x1="1487.2" y1="1360.0" x2="1487.2" y2="1384.8" stroke="#800080" stroke-width="2.6" />
<line x1="1482.6" y1="1360.0" x2="1491.8" y2="1360.0" stroke="#800080" stroke-width="2.6" />
<line x1="1482.6" y1="1384.8" x2="1491.8" y2="1384.8" stroke="#800080" stroke-width="2.6" />
<line x1="1640.8" y1="1180.2" x2="1640.8" y2="1204.5" stroke="#800080" stroke-width="2.6" />
<line x1="1636.2" y1="1180.2" x2="1645.4" y2="1180.2" stroke="#800080" stroke-width="2.6" />
<line x1="1636.2" y1="1204.5" x2="1645.4" y2="1204.5" stroke="#800080" stroke-width="2.6" />
<line x1="1717.6" y1="1246.9" x2="1717.6" y2="1259.2" stroke="#800080" stroke-width="2.6" />
<line x1="1713.0" y1="1246.9" x2="1722.2" y2="1246.9" stroke="#800080" stroke-width="2.6" />
<line x1="1713.0" y1="1259.2" x2="1722.2" y2="1259.2" stroke="#800080" stroke-width="2.6" />
<line x1="1794.4" y1="1340.9" x2="1794.4" y2="1367.1" stroke="#800080" stroke-width="2.6" />
<line x1="1789.8" y1="1340.9" x2="1799.0" y2="1340.9" stroke="#800080" stroke-width="2.6" />
<line x1="1789.8" y1="1367.1" x2="1799.0" y2="1367.1" stroke="#800080" stroke-width="2.6" />
<line x1="918.2" y1="1279.0" x2="1902.0" y2="1279.0" stroke="#000" stroke-width="3" />
<rect x="918.2" y="1145.2" width="983.8" height="429.2" fill="none" stroke="#000" stroke-width="3"/>
<line x1="913.6" y1="1573.2" x2="918.2" y2="1573.2" stroke="#000" stroke-width="3" />
<line x1="909.4" y1="1546.5" x2="918.2" y2="1546.5" stroke="#000" stroke-width="3" />
<text transform="matrix(1 0 0 1.045 828.10 1556.50)" font-size="30.00" fill="#000" >-1000</text>
<line x1="913.6" y1="1519.8" x2="918.2" y2="1519.8" stroke="#000" stroke-width="3" />
<line x1="909.4" y1="1493.0" x2="918.2" y2="1493.0" stroke="#000" stroke-width="3" />
<text transform="matrix(1 0 0 1.045 844.75 1503.00)" font-size="30.00" fill="#000" >-800</text>
<line x1="913.6" y1="1466.2" x2="918.2" y2="1466.2" stroke="#000" stroke-width="3" />
<line x1="909.4" y1="1439.5" x2="918.2" y2="1439.5" stroke="#000" stroke-width="3" />
<text transform="matrix(1 0 0 1.045 844.75 1449.50)" font-size="30.00" fill="#000" >-600</text>
<line x1="913.6" y1="1412.8" x2="918.2" y2="1412.8" stroke="#000" stroke-width="3" />
<line x1="909.4" y1="1386.0" x2="918.2" y2="1386.0" stroke="#000" stroke-width="3" />
<text transform="matrix(1 0 0 1.045 844.75 1396.00)" font-size="30.00" fill="#000" >-400</text>
<line x1="913.6" y1="1359.2" x2="918.2" y2="1359.2" stroke="#000" stroke-width="3" />
<line x1="909.4" y1="1332.5" x2="918.2" y2="1332.5" stroke="#000" stroke-width="3" />
<text transform="matrix(1 0 0 1.045 844.75 1342.50)" font-size="30.00" fill="#000" >-200</text>
<line x1="913.6" y1="1305.8" x2="918.2" y2="1305.8" stroke="#000" stroke-width="3" />
<line x1="909.4" y1="1279.0" x2="918.2" y2="1279.0" stroke="#000" stroke-width="3" />
<text transform="matrix(1 0 0 1.045 888.10 1289.00)" font-size="30.00" fill="#000" >0</text>
<line x1="913.6" y1="1252.2" x2="918.2" y2="1252.2" stroke="#000" stroke-width="3" />
<line x1="909.4" y1="1225.5" x2="918.2" y2="1225.5" stroke="#000" stroke-width="3" />
<text transform="matrix(1 0 0 1.045 854.80 1235.50)" font-size="30.00" fill="#000" >200</text>
<line x1="913.6" y1="1198.8" x2="918.2" y2="1198.8" stroke="#000" stroke-width="3" />
<line x1="909.4" y1="1172.0" x2="918.2" y2="1172.0" stroke="#000" stroke-width="3" />
<text transform="matrix(1 0 0 1.045 854.80 1182.00)" font-size="30.00" fill="#000" >400</text>
<line x1="913.6" y1="1145.2" x2="918.2" y2="1145.2" stroke="#000" stroke-width="3" />
<text transform="translate(816.6,1360.0) rotate(-90) scale(1,1.045)" font-size="36.5" fill="#000" text-anchor="middle">Charge density (μC m<tspan font-size="22.5" dy="-18">-2</tspan><tspan dy="18">)</tspan></text>
<text transform="matrix(1 0 0 1.045 1081.45 1190.00)" font-size="31.59" fill="#000" font-weight="bold" >Fe</text>
<text transform="matrix(1 0 0 1.045 1393.53 1190.00)" font-size="30.92" fill="#000" font-weight="bold" >Au</text>
<text transform="matrix(1 0 0 1.045 1708.07 1190.00)" font-size="31.24" fill="#000" font-weight="bold" >Pt</text>
<rect x="1695.9" y="1451.1" width="49.1" height="23.6" fill="#FF7070" />
<rect x="1695.9" y="1488.6" width="49.1" height="23.6" fill="#F0C468" />
<rect x="1695.9" y="1525.3" width="49.1" height="23.6" fill="#22B0FF" />
<text transform="matrix(1 0 0 1.045 1753.67 1470.90)" font-size="30.40" fill="#000" textLength="40.5" lengthAdjust="spacing" >PA</text>
<text transform="matrix(1 0 0 1.045 1753.67 1507.70)" font-size="30.40" fill="#000" textLength="41.3" lengthAdjust="spacing" >PP</text>
<text transform="matrix(1 0 0 1.045 1753.67 1544.80)" font-size="30.40" fill="#000" textLength="77.8" lengthAdjust="spacing" >PTFE</text></svg></body></html>
